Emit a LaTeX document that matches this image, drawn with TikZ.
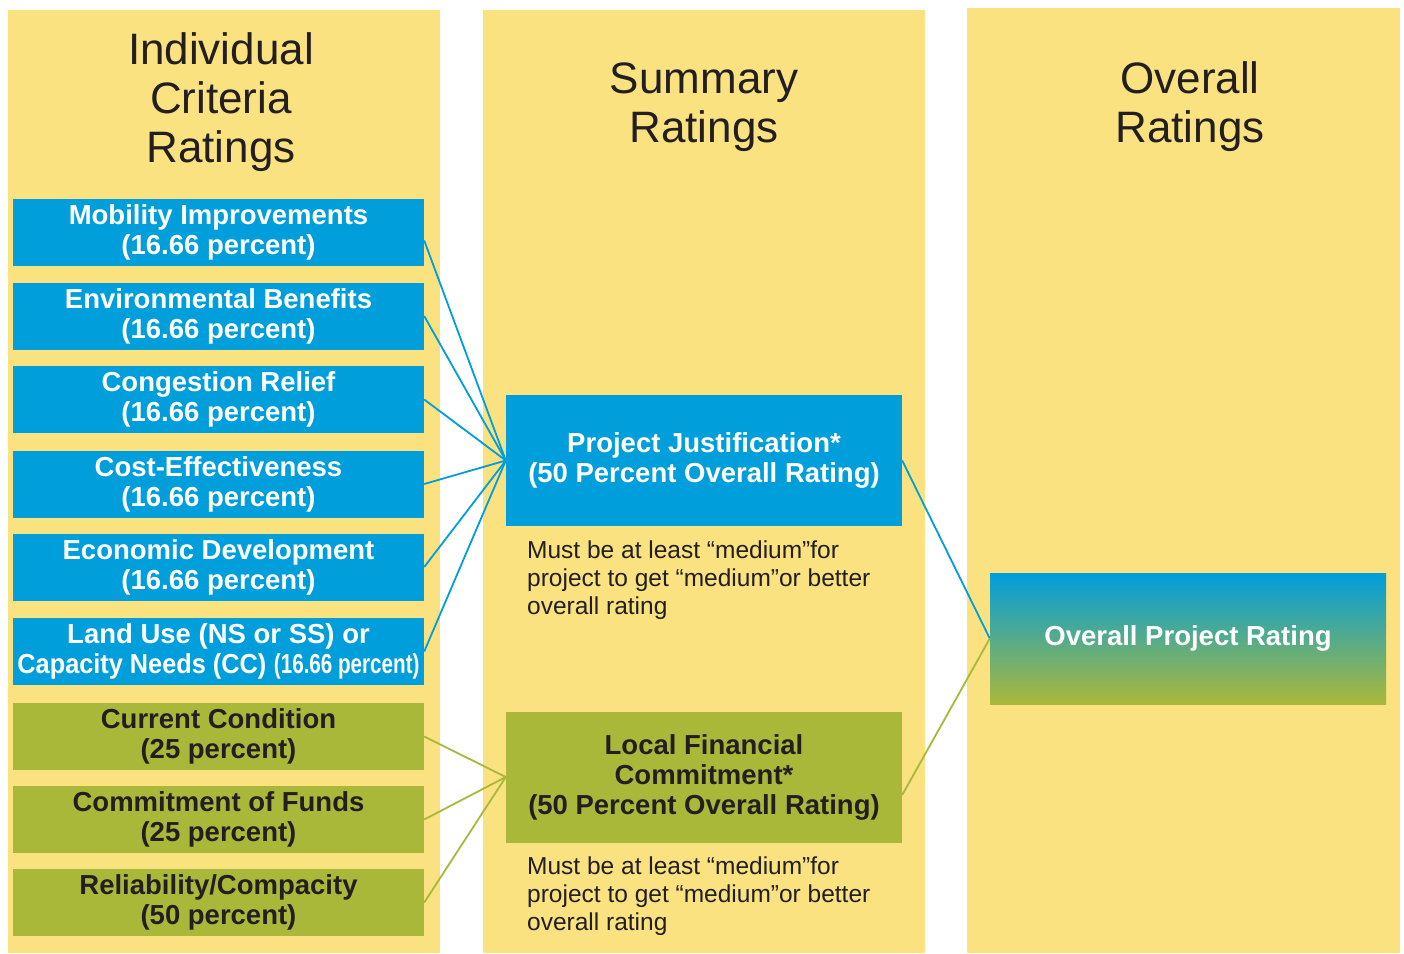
\documentclass[tikz,border=0pt]{standalone}
\usepackage{fontspec}
\setmainfont{Liberation Sans}
\usetikzlibrary{shadings}
\definecolor{colyellow}{RGB}{250,226,128}
\definecolor{colblue}{RGB}{0,158,219}
\definecolor{colgreen}{RGB}{170,184,58}
\definecolor{coltext}{RGB}{35,31,32}
\tikzset{
  column/.style={fill=colyellow, draw=none},
  critbox/.style={minimum width=411pt, minimum height=67pt, inner sep=0pt, align=center,
    font=\fontsize{27.5}{30}\selectfont\bfseries},
  bluebox/.style={critbox, fill=colblue, text=white},
  greenbox/.style={critbox, fill=colgreen, text=coltext},
  sumbox/.style={minimum width=396pt, minimum height=131pt, inner sep=0pt, align=center,
    font=\fontsize{27.5}{30}\selectfont\bfseries},
  title/.style={align=center, text=coltext, font=\fontsize{44}{49}\selectfont},
  note/.style={align=left, anchor=north west, inner sep=0pt, text=coltext,
    font=\fontsize{24.5}{28}\selectfont},
  blueline/.style={draw=colblue, line width=1.8pt},
  greenline/.style={draw=colgreen, line width=1.8pt}
}
\begin{document}
\begin{tikzpicture}[x=1pt,y=-1pt]
\useasboundingbox (0,0) rectangle (1404,953);
\fill[white] (0,0) rectangle (1404,953);
% columns
\fill[column] (8,10) rectangle (440,953);
\fill[column] (483,10) rectangle (925,953);
\fill[column] (967,8) rectangle (1400,953);
% titles
\node[title] (t1) at (221,102) {Individual\\Criteria\\Ratings};
\node[title] (t2) at (704,107) {Summary\\Ratings};
\node[title] (t3) at (1190,107) {Overall\\Ratings};
% criteria boxes
\node[bluebox] (c1) at (218.5,232.5) {Mobility Improvements\\(16.66 percent)};
\node[bluebox] (c2) at (218.5,316) {Environmental Benefits\\(16.66 percent)};
\node[bluebox] (c3) at (218.5,399.5) {Congestion Relief\\(16.66 percent)};
\node[bluebox] (c4) at (218.5,484) {Cost-Effectiveness\\(16.66 percent)};
\node[bluebox] (c5) at (218.5,567) {Economic Development\\(16.66 percent)};
\node[bluebox] (c6) at (218.5,651.5) {Land Use (NS or SS) or\\\scalebox{0.92}[1]{Capacity Needs (CC)} \scalebox{0.75}[1]{(16.66 percent)}};
\node[greenbox] (g1) at (218.5,736.5) {Current Condition\\(25 percent)};
\node[greenbox] (g2) at (218.5,819.5) {Commitment of Funds\\(25 percent)};
\node[greenbox] (g3) at (218.5,902.5) {Reliability/Compacity\\(50 percent)};
% summary boxes
\node[sumbox, fill=colblue, text=white] (pj) at (704,460.5) {Project Justification*\\(50 Percent Overall Rating)};
\node[sumbox, fill=colgreen, text=coltext] (lf) at (704,777) {Local Financial\\Commitment*\\(50 Percent Overall Rating)};
\node[note] (n1) at (527,541) {Must be at least “medium”for\\project to get “medium”or better\\overall rating};
\node[note] (n2) at (527,857) {Must be at least “medium”for\\project to get “medium”or better\\overall rating};
% overall box
\node[sumbox, top color=colblue, bottom color=colgreen, middle color=colblue!50!colgreen, text=white] (ov) at (1188,638.5) {Overall Project Rating};
% connectors
\draw[blueline] ([yshift=-8pt]c1.east) -- (pj.west);
\draw[blueline] (c2.east) -- (pj.west);
\draw[blueline] (c3.east) -- (pj.west);
\draw[blueline] (c4.east) -- (pj.west);
\draw[blueline] (c5.east) -- (pj.west);
\draw[blueline] (c6.east) -- (pj.west);
\draw[greenline] (g1.east) -- (lf.west);
\draw[greenline] (g2.east) -- (lf.west);
\draw[greenline] (g3.east) -- (lf.west);
\draw[blueline] (pj.east) -- (ov.west);
\draw[greenline] ([yshift=-18pt]lf.east) -- (ov.west);
\end{tikzpicture}
\end{document}
